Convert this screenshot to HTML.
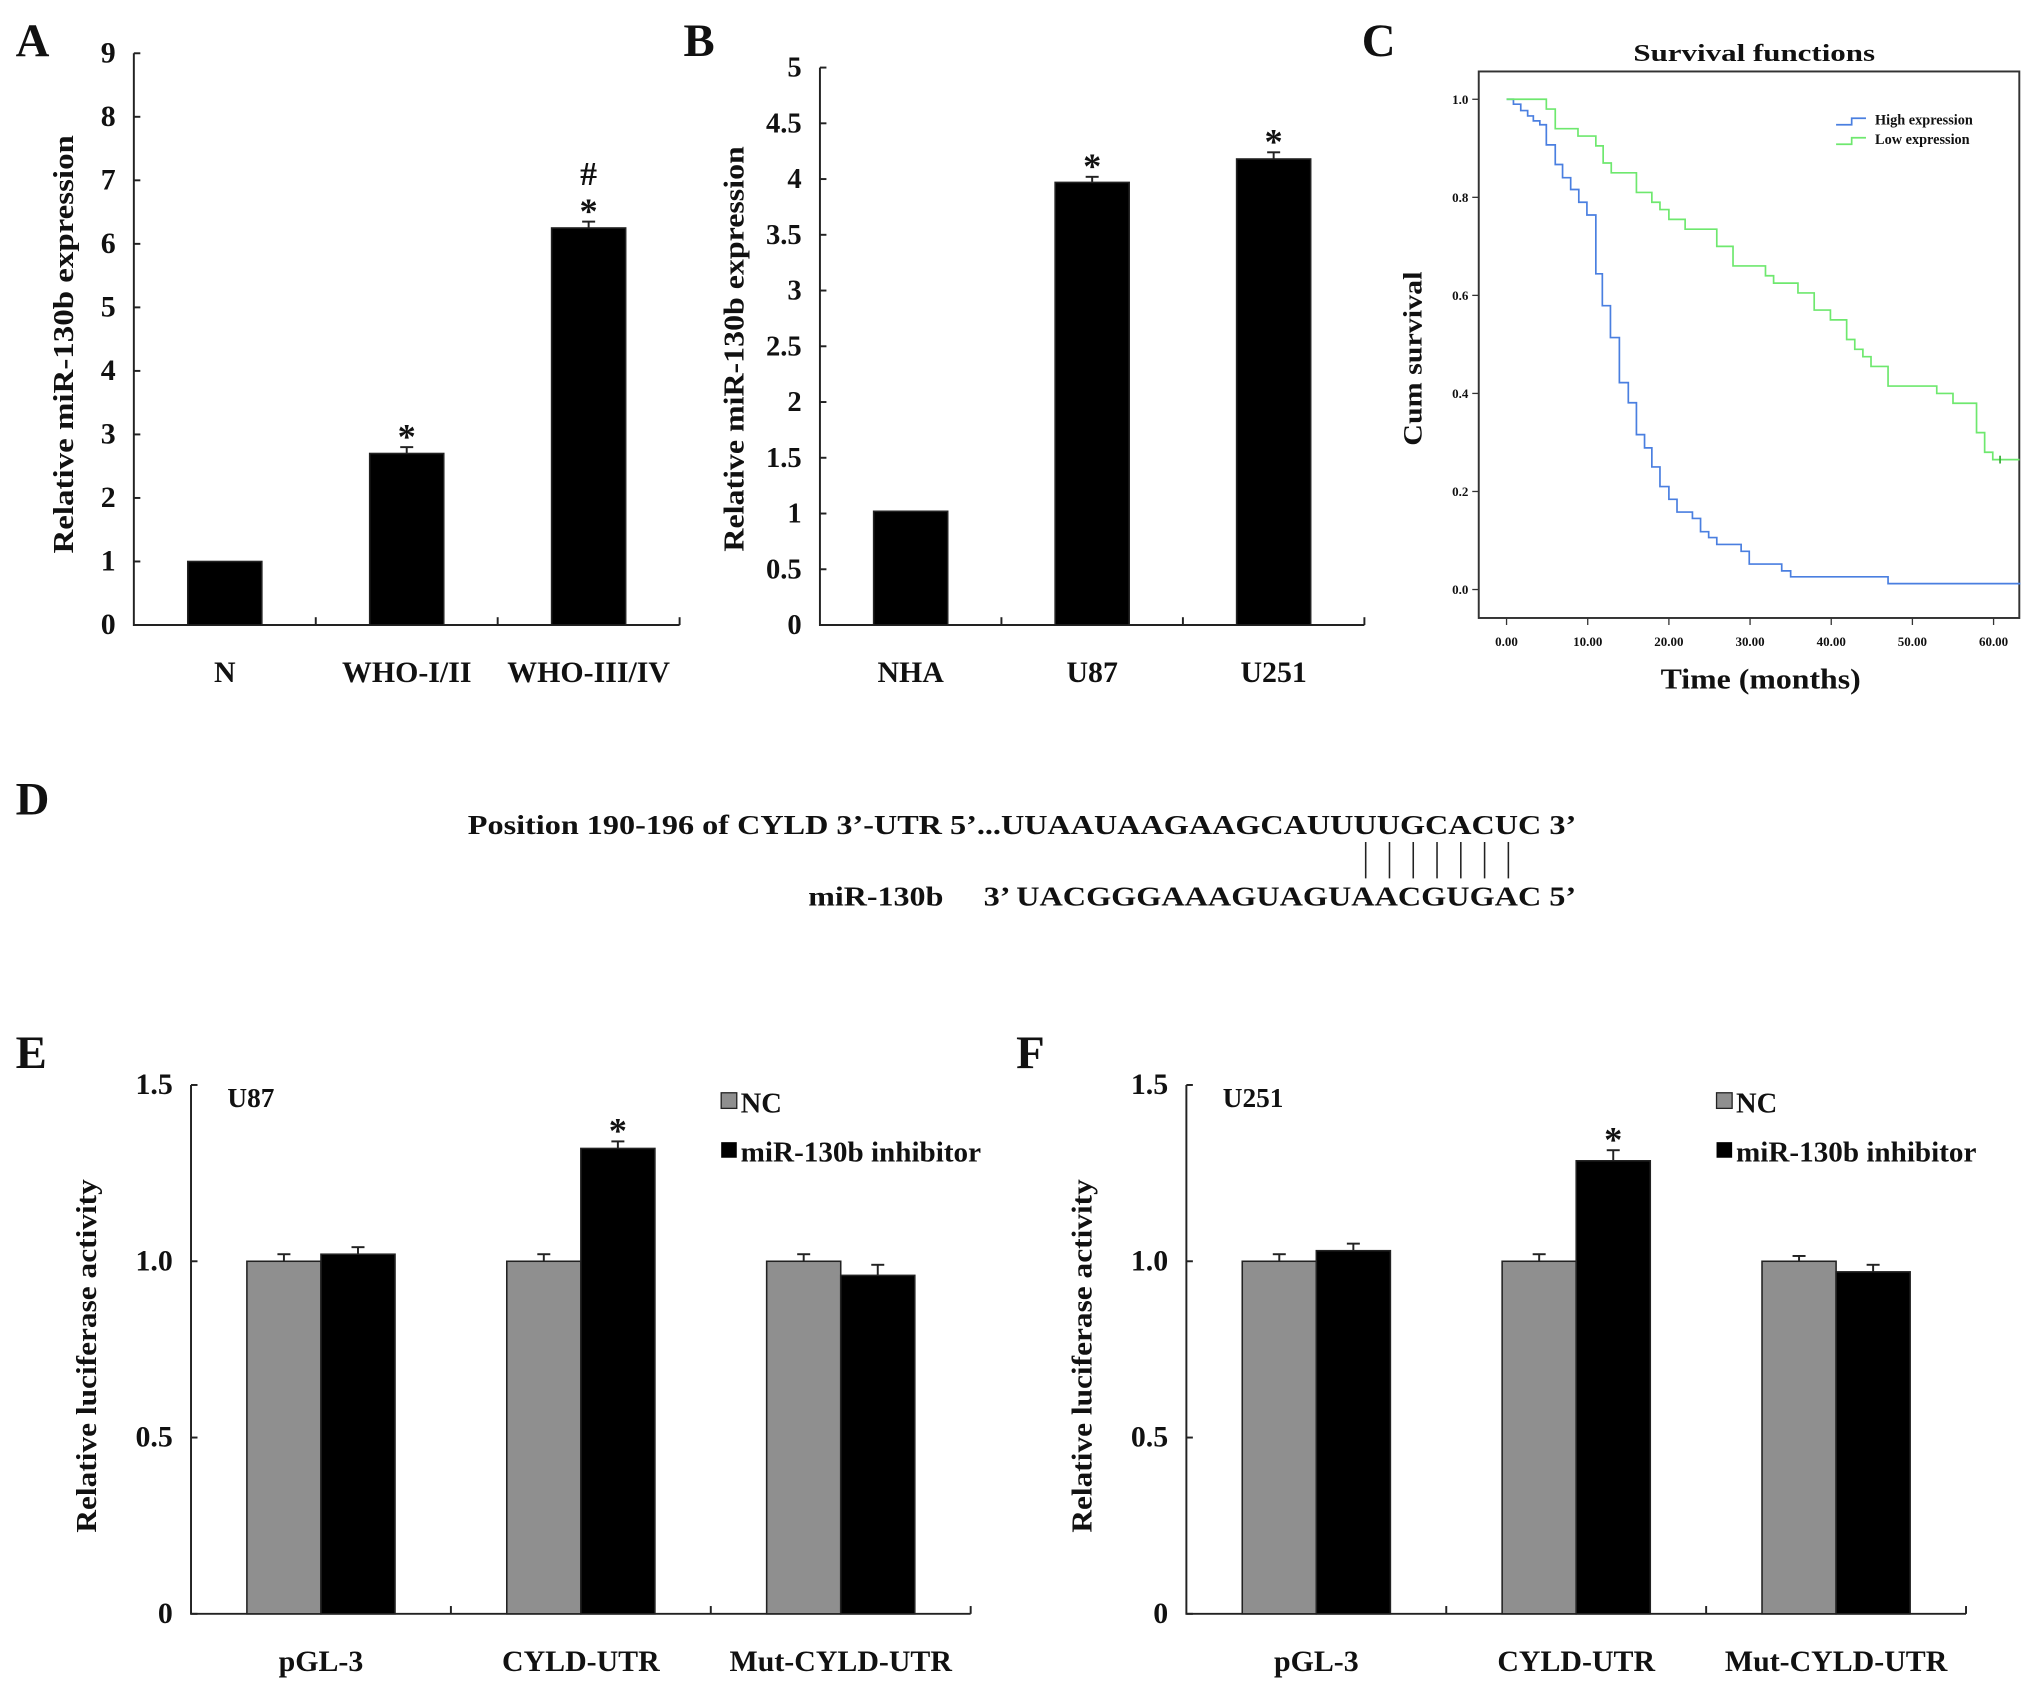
<!DOCTYPE html>
<html><head><meta charset="utf-8"><style>
html,body{margin:0;padding:0;background:#fff}
svg{display:block}
text{font-family:"Liberation Serif",serif;font-weight:bold;fill:#111}
</style></head><body>
<svg id="fig" width="2031" height="1684" viewBox="0 0 1563 1296" preserveAspectRatio="none" xmlns="http://www.w3.org/2000/svg">
<rect width="1563" height="1296" fill="#fff"/>
<text x="12" y="43" font-size="36">A</text>
<text x="526" y="43" font-size="36">B</text>
<text x="1048" y="43" font-size="36">C</text>
<text x="12" y="627" font-size="36">D</text>
<text x="12" y="822" font-size="36">E</text>
<text x="782" y="822" font-size="36">F</text>
<g>
<text x="360" y="642" font-size="21" textLength="853" lengthAdjust="spacingAndGlyphs">Position 190-196 of CYLD 3’-UTR 5’...UUAAUAAGAAGCAUUUUGCACUC 3’</text>
<text x="622" y="697" font-size="21" textLength="104" lengthAdjust="spacingAndGlyphs">miR-130b</text>
<text x="757" y="697" font-size="21" textLength="456" lengthAdjust="spacingAndGlyphs">3’ UACGGGAAAGUAGUAACGUGAC 5’</text>
<g id="pairs" stroke="#222" stroke-width="1.2"></g>
</g>
</svg>
<script>
// Panel A data
const catsA = ["N","WHO-I/II","WHO-III/IV"];
const valsA = [1.0, 2.7, 6.25];
const errA = [0, 0.1, 0.1];
const ticksA = ["0","1","2","3","4","5","6","7","8","9"];
// Panel B data
const catsB = ["NHA","U87","U251"];
const valsB = [1.02, 3.97, 4.18];
const errB = [0, 0.05, 0.06];
const ticksB = ["0","0.5","1","1.5","2","2.5","3","3.5","4","4.5","5"];
// Panel C data (Kaplan-Meier steps: time in months, survival after step)
const highT = [0,0.85,1.75,2.6,3.3,4.1,4.9,6.0,6.9,7.9,8.9,9.9,11.0,11.8,12.8,13.9,15.0,16.0,17.0,17.9,18.9,20.0,21.0,22.9,23.9,24.9,25.9,28.9,29.9,33.9,35.0,47.0];
const highS = [1.0,0.99,0.977,0.966,0.956,0.948,0.907,0.867,0.84,0.816,0.79,0.764,0.644,0.579,0.514,0.422,0.381,0.316,0.289,0.25,0.21,0.184,0.158,0.145,0.118,0.106,0.092,0.078,0.052,0.038,0.026,0.012];
const lowT = [0,4.9,6.0,8.8,11.0,11.9,12.9,16.0,17.9,18.9,20.0,22.0,25.9,27.9,31.9,32.9,35.9,37.9,39.9,41.9,42.9,43.9,44.9,47.0,53.0,55.0,57.9,58.9,59.9];
const lowS = [1.0,0.98,0.94,0.925,0.905,0.87,0.85,0.81,0.79,0.775,0.755,0.735,0.70,0.66,0.64,0.625,0.605,0.57,0.55,0.51,0.49,0.475,0.455,0.415,0.40,0.38,0.32,0.28,0.265];
const censorLow = [60.8];
const ticksCY = ["0.0","0.2","0.4","0.6","0.8","1.0"];
const ticksCX = ["0.00","10.00","20.00","30.00","40.00","50.00","60.00"];
// Panels E/F data
const catsEF = ["pGL-3","CYLD-UTR","Mut-CYLD-UTR"];
const ncE = [1.0, 1.0, 1.0];
const inhE = [1.02, 1.32, 0.96];
const ncErrE = [0.02, 0.02, 0.02];
const inhErrE = [0.02, 0.02, 0.03];
const ncF = [1.0, 1.0, 1.0];
const inhF = [1.03, 1.285, 0.97];
const ncErrF = [0.02, 0.02, 0.015];
const inhErrF = [0.02, 0.03, 0.02];
const ticksEF = ["0","0.5","1.0","1.5"];

const NS="http://www.w3.org/2000/svg";
const svg=document.getElementById('fig');
function el(tag,attrs,parent,txt){const e=document.createElementNS(NS,tag);for(const k in attrs)e.setAttribute(k,attrs[k]);if(txt!==undefined)e.textContent=txt;(parent||svg).appendChild(e);return e;}

const pairs=document.getElementById('pairs');
for(let i=0;i<7;i++){const l=el('line',{x1:1051+i*18.3,x2:1051+i*18.3,y1:648,y2:676},pairs);

}

function barPanel(o){
  const g=el('g',{});
  
  
  const y=v=>o.y0-(v/o.max)*(o.y0-o.ytop);
  const n=o.cats.length, cw=(o.x1-o.x0)/n;
  const ax=el('path',{d:`M${o.x0},${o.ytop} V${o.y0} H${o.x1}`,fill:'none',stroke:'#222','stroke-width':1.5},g);
  
  
  o.ticks.forEach((t,i)=>{const v=i*o.max/(o.ticks.length-1);const yy=y(v);
    el('line',{x1:o.x0,x2:o.x0+5,y1:yy,y2:yy,stroke:'#222','stroke-width':1.5},g);
    const tl=el('text',{x:o.x0-14,y:yy+7,'font-size':o.tfs,'text-anchor':'end'},g,t);
    
    });
  for(let i=1;i<=n;i++){const xx=o.x0+i*cw;el('line',{x1:xx,x2:xx,y1:o.y0,y2:o.y0-6,stroke:'#222','stroke-width':1.5},g);}
  o.cats.forEach((c,i)=>{const cx=o.x0+(i+0.5)*cw;
    const xl=el('text',{x:cx,y:o.y0+44,'font-size':o.xfs,'text-anchor':'middle'},g,c);
    
    
    o.series.forEach((s,k)=>{const bw=57;const bx=cx-(o.series.length*bw)/2+k*bw;
      const v=s.vals[i];const yy=y(v);
      const r=el('rect',{x:bx,y:yy,width:bw,height:o.y0-yy,fill:s.fill,stroke:'#222','stroke-width':1.2},g);
      
      
      const e=s.err[i];if(e>0){const ye=y(v+e);const mx=bx+bw/2;
        el('line',{x1:mx,x2:mx,y1:yy,y2:ye,stroke:'#222','stroke-width':1.5},g);
        el('line',{x1:mx-5,x2:mx+5,y1:ye,y2:ye,stroke:'#222','stroke-width':1.5},g);}
    });
  });
  const ty=(o.ytop+o.y0)/2+o.titleDy;
  const tt=el('text',{x:o.titleX,y:ty,'font-size':o.titleFs,'text-anchor':'middle',textLength:o.titleLen,lengthAdjust:'spacingAndGlyphs',transform:`rotate(-90 ${o.titleX} ${ty})`},g,o.title);
  
  
  return {g,y,cw};
}
function star(g,x,ye){const t=el('text',{x:x,y:ye+3,'font-size':28,'text-anchor':'middle'},g,'*');
  
  }

// Panel A
const A=barPanel({name:'panel-a-chart',cats:catsA,series:[{key:'expr',vals:valsA,err:errA,fill:'#000'}],ticks:ticksA,max:9,x0:103,x1:523,y0:481,ytop:41,tfs:23,xfs:23,title:'Relative miR-130b expression',titleX:56,titleFs:22,titleLen:322,titleDy:4});
star(A.g,313,A.y(valsA[1]+errA[1])-2);
star(A.g,453,A.y(valsA[2]+errA[2])-2);
let h=el('text',{x:453,y:A.y(valsA[2]+errA[2])-28,'font-size':26,'text-anchor':'middle'},A.g,'#');


// Panel B
const B=barPanel({name:'panel-b-chart',cats:catsB,series:[{key:'expr',vals:valsB,err:errB,fill:'#000'}],ticks:ticksB,max:5,x0:631,x1:1050,y0:481,ytop:52,tfs:22,xfs:23,title:'Relative miR-130b expression',titleX:572,titleFs:22,titleLen:312,titleDy:2});
[1,2].forEach(i=>star(B.g,631+(i+0.5)*B.cw,B.y(valsB[i]+errB[i])-2));

// Panels E/F
function lucPanel(name,x0,nc,inh,ncE_,inhE_,cell){
  const P=barPanel({name:name,cats:catsEF,series:[{key:'nc',vals:nc,err:ncE_,fill:'#8f8f8f'},{key:'inhibitor',vals:inh,err:inhE_,fill:'#000'}],ticks:ticksEF,max:1.5,x0:x0,x1:x0+600,y0:1242,ytop:835,tfs:23,xfs:23,title:'Relative luciferase activity',titleX:x0-73,titleFs:22,titleLen:272,titleDy:5});
  star(P.g,x0+1.5*P.cw+28.5,P.y(inh[1]+inhE_[1])-2);
  const c=el('text',{x:x0+28,y:852,'font-size':21},P.g,cell);
  
  
  const lx=x0+408;
  const l1=el('rect',{x:lx,y:841,width:12,height:12,fill:'#8f8f8f',stroke:'#222'},P.g);
  
  
  const t1=el('text',{x:lx+15,y:856,'font-size':22},P.g,'NC');
  
  
  const l2=el('rect',{x:lx,y:879,width:12,height:12,fill:'#000'},P.g);
  
  
  const t2=el('text',{x:lx+15,y:894,'font-size':22,textLength:185,lengthAdjust:'spacingAndGlyphs'},P.g,'miR-130b inhibitor');
  
  
}
lucPanel('panel-e-chart',147,ncE,inhE,ncErrE,inhErrE,'U87');
lucPanel('panel-f-chart',913,ncF,inhF,ncErrF,inhErrF,'U251');

// Panel C
(function(){
  const g=el('g',{});
  
  
  const X=t=>1159.4+t*(1534.2-1159.4)/60;
  const Y=v=>453.7-v*(453.7-76.4);
  const fr=el('rect',{x:1138,y:55,width:416,height:420.6,fill:'none',stroke:'#333','stroke-width':1.5},g);
  
  
  ticksCY.forEach(t=>{const yy=Y(parseFloat(t));
    el('line',{x1:1133,x2:1138,y1:yy,y2:yy,stroke:'#333'},g);
    const tl=el('text',{x:1130,y:yy+3.5,'font-size':10,'text-anchor':'end'},g,t);
    
    });
  ticksCX.forEach(t=>{const xx=X(parseFloat(t));
    el('line',{x1:xx,x2:xx,y1:475.6,y2:481,stroke:'#333'},g);
    const tl=el('text',{x:xx,y:497,'font-size':10,'text-anchor':'middle'},g,t);
    
    });
  function step(T,S,end,color,name){let d=`M${X(T[0])},${Y(S[0])}`;
    for(let i=1;i<T.length;i++){d+=` H${X(T[i])} V${Y(S[i])}`;}d+=` H${X(end)}`;
    const p=el('path',{d:d,fill:'none',stroke:color,'stroke-width':1.3},g);
    
    }
  step(highT,highS,63.3,'#4a7fe0','high-expression-curve');
  step(lowT,lowS,63.2,'#6ee86e','low-expression-curve');
  censorLow.forEach(t=>{const yy=Y(lowS[lowS.length-1]);
    const m=el('line',{x1:X(t),x2:X(t),y1:yy-3,y2:yy+3,stroke:'#3a3','stroke-width':1.3},g);
    
    });
  const leg=[['High expression','#4a7fe0',96],['Low expression','#6ee86e',111]];
  leg.forEach(([t,c,yy])=>{
    const p=el('path',{d:`M1413,${yy} H1425 V${yy-5} H1436`,fill:'none',stroke:c,'stroke-width':1.3},g);
    
    
    const tt=el('text',{x:1443,y:yy,'font-size':11},g,t);
    
    });
  const ti=el('text',{x:1350,y:47,'font-size':19,'text-anchor':'middle',textLength:186,lengthAdjust:'spacingAndGlyphs'},g,'Survival  functions');
  
  
  const yt=el('text',{x:1094,y:276,'font-size':20,'text-anchor':'middle',textLength:134,lengthAdjust:'spacingAndGlyphs',transform:'rotate(-90 1094 276)'},g,'Cum survival');
  
  
  const xt=el('text',{x:1355,y:530,'font-size':22,'text-anchor':'middle',textLength:154,lengthAdjust:'spacingAndGlyphs'},g,'Time (months)');
  
  
})();
</script>
</body></html>
